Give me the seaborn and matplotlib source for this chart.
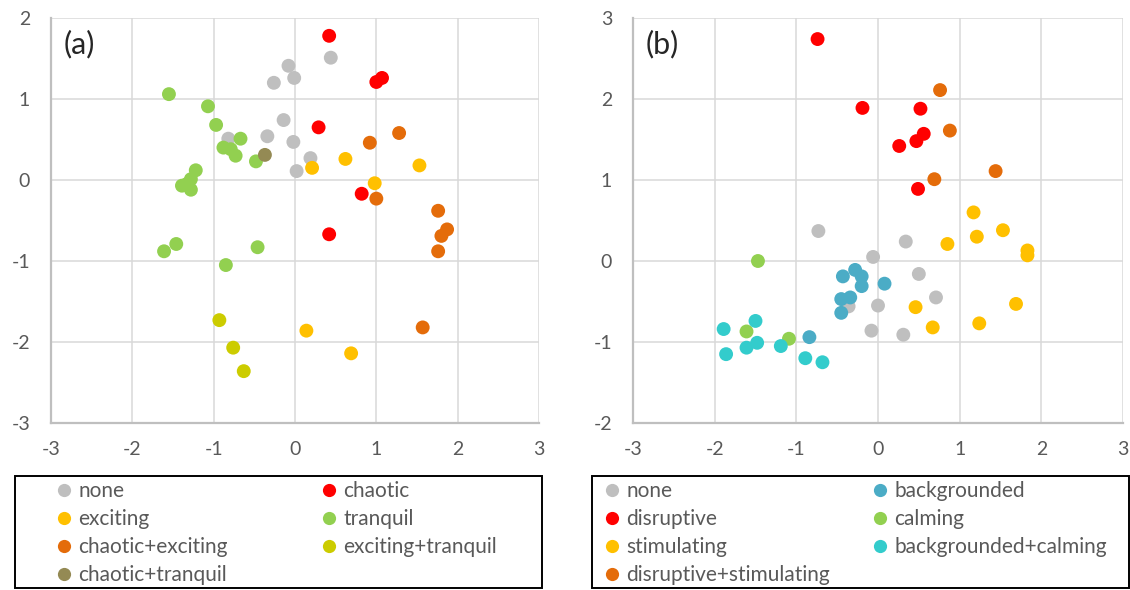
import pandas as pd
import seaborn as sns
import matplotlib.pyplot as plt
from matplotlib.lines import Line2D
from matplotlib.patches import Rectangle

# ---- panel (a) data, (x, y) per category ----
a_none = [(0.44, 1.51), (-0.08, 1.41), (-0.26, 1.20), (-0.01, 1.26), (-0.14, 0.74),
          (-0.82, 0.51), (-0.34, 0.54), (-0.02, 0.47), (0.19, 0.27), (0.02, 0.11)]
a_chaotic = [(0.42, 1.78), (1.00, 1.21), (1.07, 1.26), (0.29, 0.65), (0.82, -0.17), (0.42, -0.67)]
a_exciting = [(0.21, 0.15), (0.62, 0.26), (1.53, 0.18), (0.98, -0.04), (0.14, -1.86), (0.69, -2.14)]
a_tranquil = [(-1.55, 1.06), (-1.07, 0.91), (-0.97, 0.68), (-0.67, 0.51), (-0.88, 0.40),
              (-0.79, 0.38), (-0.73, 0.30), (-0.48, 0.23), (-1.22, 0.12), (-1.28, 0.01),
              (-1.39, -0.07), (-1.28, -0.12), (-1.33, -0.05), (-1.61, -0.88), (-1.46, -0.79),
              (-0.46, -0.83), (-0.85, -1.05)]
a_chaotic_exciting = [(0.92, 0.46), (1.28, 0.58), (1.00, -0.23), (1.76, -0.38), (1.87, -0.61),
                      (1.80, -0.69), (1.76, -0.88), (1.57, -1.82)]
a_exciting_tranquil = [(-0.93, -1.73), (-0.76, -2.07), (-0.63, -2.36)]
a_chaotic_tranquil = [(-0.37, 0.31)]

a_labels = ['none', 'chaotic', 'exciting', 'tranquil', 'chaotic+exciting',
            'exciting+tranquil', 'chaotic+tranquil']
a_colors = ['#BFBFBF', '#FF0000', '#FFC000', '#92D050', '#E46C0A', '#CCCC00', '#948A54']
a_points = [a_none, a_chaotic, a_exciting, a_tranquil, a_chaotic_exciting,
            a_exciting_tranquil, a_chaotic_tranquil]

# ---- panel (b) data ----
b_none = [(-0.73, 0.37), (0.34, 0.24), (-0.06, 0.05), (0.50, -0.16), (-0.36, -0.56),
          (0.00, -0.55), (0.71, -0.45), (-0.08, -0.86), (0.31, -0.91)]
b_backgrounded = [(-0.43, -0.19), (-0.28, -0.11), (-0.20, -0.19), (-0.20, -0.31), (0.08, -0.28),
                  (-0.45, -0.47), (-0.34, -0.45), (-0.45, -0.64), (-0.84, -0.94)]
b_disruptive = [(-0.74, 2.74), (-0.19, 1.89), (0.52, 1.88), (0.56, 1.57), (0.47, 1.48),
                (0.26, 1.42), (0.49, 0.89)]
b_calming = [(-1.47, 0.00), (-1.61, -0.87), (-1.09, -0.96)]
b_stimulating = [(1.17, 0.60), (0.85, 0.21), (1.21, 0.30), (1.53, 0.38), (1.83, 0.13),
                 (1.83, 0.07), (0.46, -0.57), (1.69, -0.53), (0.67, -0.82), (1.24, -0.77)]
b_backgrounded_calming = [(-1.89, -0.84), (-1.50, -0.74), (-1.48, -1.01), (-1.61, -1.07),
                          (-1.86, -1.15), (-1.19, -1.05), (-0.89, -1.20), (-0.68, -1.25)]
b_disruptive_stimulating = [(0.76, 2.11), (0.88, 1.61), (1.44, 1.11), (0.69, 1.01)]

b_labels = ['none', 'backgrounded', 'disruptive', 'calming', 'stimulating',
            'backgrounded+calming', 'disruptive+stimulating']
b_colors = ['#BFBFBF', '#4BACC6', '#FF0000', '#92D050', '#FFC000', '#33CCCC', '#E46C0A']
b_points = [b_none, b_backgrounded, b_disruptive, b_calming, b_stimulating,
            b_backgrounded_calming, b_disruptive_stimulating]

sns.set_style('white')
plt.rcParams['font.family'] = ['Lato', 'DejaVu Sans']
plt.rcParams['axes.unicode_minus'] = False

W, H = 1130, 590
fig = plt.figure(figsize=(W / 100, H / 100), dpi=100)


def make_df(labels, points):
    rows = []
    for lab, pts in zip(labels, points):
        for x, y in pts:
            rows.append({'x': x, 'y': y, 'cat': lab})
    return pd.DataFrame(rows)


def draw_panel(rect, labels, colors, points, ylim, tag, leg_box, col_x):
    ax = fig.add_axes(rect)
    df = make_df(labels, points)
    sns.scatterplot(data=df, x='x', y='y', hue='cat', hue_order=labels,
                    palette=dict(zip(labels, colors)), s=100, linewidth=0,
                    legend=False, ax=ax, zorder=3)
    ax.set_xlim(-3, 3)
    ax.set_ylim(*ylim)
    ax.set_xticks(range(-3, 4))
    ax.set_yticks(range(ylim[0], ylim[1] + 1))
    ax.set_xlabel('')
    ax.set_ylabel('')
    ax.grid(True, color='#D9D9D9', lw=1.1, zorder=0)
    for s in ['top', 'right']:
        ax.spines[s].set_visible(False)
    for s in ['left', 'bottom']:
        ax.spines[s].set_color('#BFBFBF')
        ax.spines[s].set_linewidth(1.6)
    ax.tick_params(axis='x', length=0, pad=13, labelsize=14, labelcolor='#595959')
    ax.tick_params(axis='y', length=0, pad=15, labelsize=14, labelcolor='#595959')
    ax.text(0.025, 0.935, tag, transform=ax.transAxes, fontsize=22, va='center', ha='left')

    # legend box
    x0, y0, x1, y1 = leg_box
    fig.add_artist(Rectangle((x0 / W, 1 - y1 / H), (x1 - x0) / W, (y1 - y0) / H,
                             transform=fig.transFigure, fill=False, ec='black', lw=1.4))
    handles = [Line2D([], [], marker='o', ls='', markersize=9.5, markerfacecolor=c,
                      markeredgewidth=0) for c in colors]
    # row-major order: even index -> col 1, odd -> col 2
    for col in range(2):
        idx = [i for i in range(len(labels)) if i % 2 == col]
        fig.legend([handles[i] for i in idx], [labels[i] for i in idx],
                   loc='upper left', bbox_to_anchor=(col_x[col] / W, 1 - 481 / H),
                   bbox_transform=fig.transFigure, frameon=False, borderpad=0,
                   borderaxespad=0, handlelength=0.62, handletextpad=0.35,
                   labelspacing=0.39, fontsize=15, labelcolor='#595959')
    return ax


draw_panel([51 / W, 1 - 423 / H, 488 / W, 405 / H], a_labels, a_colors, a_points,
           (-3, 2), '(a)', (15, 476, 542, 588), (58, 323))
draw_panel([633 / W, 1 - 423 / H, 490 / W, 405 / H], b_labels, b_colors, b_points,
           (-2, 3), '(b)', (592, 476, 1129, 588), (606, 874))

fig.savefig('out.png', dpi=100)
